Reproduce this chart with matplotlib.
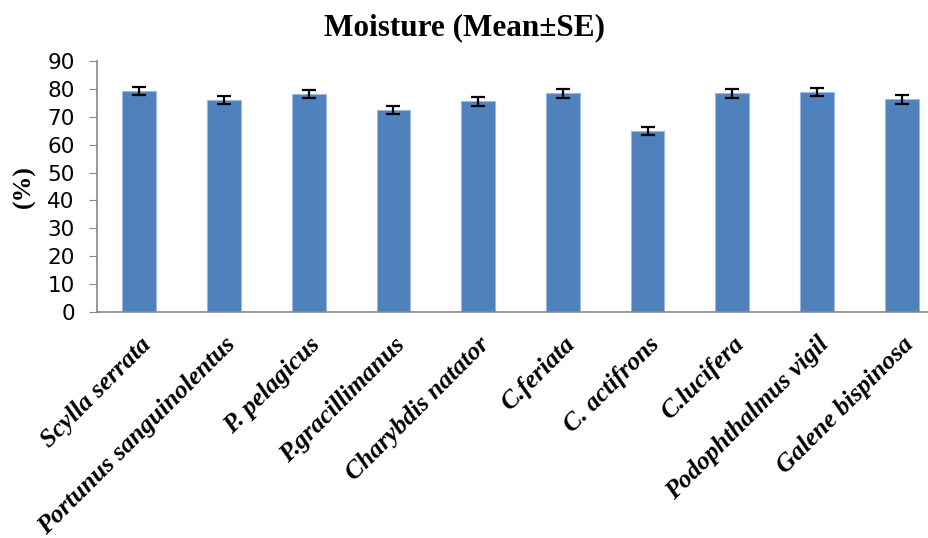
import numpy as np
import matplotlib.pyplot as plt

# data
species = ['Scylla serrata', 'Portunus sanguinolentus', 'P. pelagicus', 'P.gracillimanus',
           'Charybdis natator', 'C.feriata', 'C. actifrons', 'C.lucifera',
           'Podophthalmus vigil', 'Galene bispinosa']
moisture = [79.3, 76.0, 78.1, 72.4, 75.5, 78.4, 64.8, 78.4, 78.9, 76.2]
se = [1.5, 1.5, 1.5, 1.5, 1.5, 1.5, 1.4, 1.5, 1.5, 1.5]

fig = plt.figure(figsize=(9.29, 5.38), dpi=100)
ax = fig.add_axes([97/929, 1 - 312/538, 847/929, 251/538])

x = np.arange(len(species))
ax.bar(x, moisture, width=0.4, color='#4F81BD', edgecolor='#9DB8DC', linewidth=0.8,
       yerr=se, capsize=5, error_kw=dict(ecolor='black', elinewidth=1.6, capthick=1.6))

ax.set_xlim(-0.5, len(species) - 0.5)
ax.set_ylim(0, 90)
ax.set_yticks(range(0, 91, 10))
ax.set_yticklabels([str(v) for v in range(0, 91, 10)], fontsize=15.5, family='DejaVu Sans')
ax.tick_params(axis='y', length=6, color='#888888', pad=10)
ax.tick_params(axis='x', length=0, pad=15)

ax.set_xticks(x)
ax.set_xticklabels(species, rotation=45, ha='right', rotation_mode='anchor',
                   fontsize=18.5, family='Liberation Serif', fontweight='bold', style='italic')

ax.set_ylabel('(%)', fontsize=18.5, family='Liberation Serif', fontweight='bold', va='center')
ax.yaxis.set_label_coords(-0.086, 0.5)

for s in ['top', 'right']:
    ax.spines[s].set_visible(False)
for s in ['left', 'bottom']:
    ax.spines[s].set_color('#888888')
    ax.spines[s].set_linewidth(1.2)

fig.text(0.5, 0.948, 'Moisture (Mean±SE)', ha='center', va='center',
         fontsize=22.5, family='Liberation Serif', fontweight='bold')

fig.savefig('out.png', dpi=100)
